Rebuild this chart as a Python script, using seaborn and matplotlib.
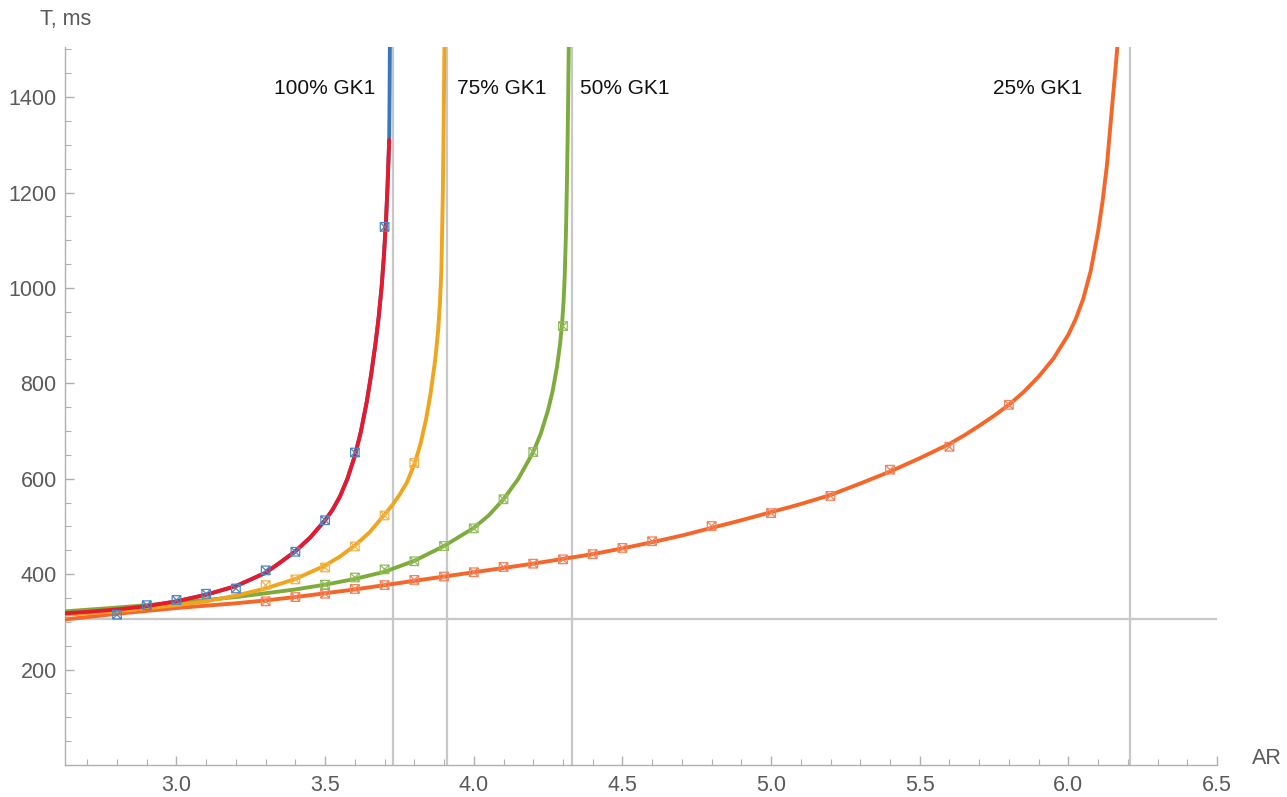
import numpy as np
import pandas as pd
import matplotlib
matplotlib.use("Agg")
import matplotlib.pyplot as plt
from matplotlib.path import Path
from matplotlib.ticker import MultipleLocator, FixedLocator
import seaborn as sns

# ---- fitted curves: T (ms) versus AR ----
fit100_x = [2.625, 2.7, 2.8, 2.9, 3.0, 3.1, 3.2, 3.3, 3.35, 3.4, 3.45, 3.5, 3.525,
            3.55, 3.575, 3.6, 3.62, 3.64, 3.655, 3.67, 3.68, 3.69, 3.698, 3.705,
            3.71, 3.7155]
fit100_y = [318, 321, 326, 333, 343, 357, 375, 403, 425, 448, 477, 513, 535,
            563, 600, 648, 698, 761, 819, 886, 938, 1002, 1069, 1144,
            1214, 1310]

model100_x = fit100_x + [3.717, 3.718]
model100_y = fit100_y + [1420, 1530]

fit75_x = [2.625, 2.8, 3.0, 3.1, 3.2, 3.3, 3.4, 3.5, 3.55, 3.6, 3.65, 3.7, 3.725,
           3.75, 3.775, 3.8, 3.82, 3.84, 3.855, 3.87, 3.88, 3.886, 3.891, 3.893,
           3.896, 3.898, 3.9, 3.902]
fit75_y = [315, 322, 335, 343, 355, 370, 390, 418, 437, 460, 488, 525, 544,
           566, 592, 630, 671, 726, 780, 848, 910, 966, 1036, 1100,
           1200, 1300, 1420, 1540]

fit50_x = [2.625, 2.8, 3.0, 3.2, 3.3, 3.4, 3.5, 3.6, 3.7, 3.8, 3.9, 4.0, 4.05, 4.1,
           4.15, 4.2, 4.225, 4.25, 4.265, 4.28, 4.29, 4.297, 4.302, 4.306, 4.31,
           4.313, 4.316, 4.319, 4.321]
fit50_y = [322, 330, 340, 352, 360, 368, 378, 390, 405, 428, 459, 497, 523, 557,
           600, 656, 694, 744, 783, 835, 881, 925, 971, 1027, 1113,
           1205, 1325, 1475, 1580]

fit25_x = [2.625, 2.8, 3.0, 3.2, 3.3, 3.4, 3.5, 3.6, 3.7, 3.8, 3.9, 4.0, 4.1, 4.2, 4.3,
           4.4, 4.5, 4.6, 4.7, 4.8, 4.9, 5.0, 5.1, 5.2, 5.3, 5.4, 5.5, 5.6, 5.65,
           5.7, 5.75, 5.8, 5.85, 5.9, 5.95, 6.0, 6.025, 6.05, 6.075, 6.1, 6.115,
           6.13, 6.14, 6.15, 6.16, 6.17]
fit25_y = [305, 317, 329, 339, 345, 352, 360, 368, 377, 386, 395, 404, 413, 422, 432,
           442, 454, 467, 481, 497, 513, 530, 547, 566, 590, 615, 643, 673, 691,
           711, 732, 755, 782, 814, 852, 902, 935, 977, 1035, 1118, 1181,
           1258, 1330, 1400, 1470, 1545]

# ---- simulated points ----
pts100_x = [2.8, 2.9, 3.0, 3.1, 3.2, 3.3, 3.4, 3.5, 3.6, 3.7]
pts100_y = [315, 335, 346, 359, 370, 408, 447, 513, 655, 1128]

pts75_x = [3.3, 3.4, 3.5, 3.6, 3.7, 3.8]
pts75_y = [377, 389, 414, 458, 523, 633]

pts50_x = [3.5, 3.6, 3.7, 3.8, 3.9, 4.0, 4.1, 4.2, 4.3]
pts50_y = [378, 393, 410, 427, 459, 496, 557, 656, 920]

pts25_x = [3.3, 3.4, 3.5, 3.6, 3.7, 3.8, 3.9, 4.0, 4.1, 4.2, 4.3, 4.4, 4.5, 4.6,
           4.8, 5.0, 5.2, 5.4, 5.6, 5.8]
pts25_y = [343, 352, 359, 369, 377, 388, 395, 404, 415, 422, 431, 442, 455, 469,
           501, 528, 564, 619, 667, 755]

# asymptotes and baseline
asymptotes = [3.727, 3.909, 4.329, 6.207]
baseline = 305

labels = ["100% GK1", "75% GK1", "50% GK1", "25% GK1"]
label_x = [3.668, 3.943, 4.357, 5.746]
label_y = 1419

C_BLUE = "#3479b9"
C_RED = "#e8192c"
C_ORANGE = "#f0a51e"
C_GREEN = "#7eac3c"
C_RORANGE = "#f4662a"

sns.set_theme(style="white")
plt.rcParams["font.family"] = ["Liberation Sans", "DejaVu Sans"]

fig = plt.figure(figsize=(12.87, 7.97), dpi=100)
ax = fig.add_axes([65 / 1287, 32 / 797, 1152 / 1287, 718 / 797])

# reference lines
for xv in asymptotes:
    ax.axvline(xv, color="#c8c8c8", lw=1.6, zorder=1)
ax.axhline(baseline, color="#c8c8c8", lw=1.6, zorder=1)

curves = [
    (model100_x, model100_y, C_BLUE, 2),
    (fit25_x, fit25_y, C_RORANGE, 3),
    (fit50_x, fit50_y, C_GREEN, 4),
    (fit75_x, fit75_y, C_ORANGE, 5),
    (fit100_x, fit100_y, C_RED, 6),
]
for cx, cy, col, z in curves:
    sns.lineplot(x=cx, y=cy, sort=False, estimator=None, color=col, lw=2.8,
                 ax=ax, zorder=z)

# boxed-cross marker
box_x = Path(
    [(-1, -1), (1, -1), (1, 1), (-1, 1), (-1, -1), (-1, -1), (1, 1), (-1, 1), (1, -1)],
    [Path.MOVETO, Path.LINETO, Path.LINETO, Path.LINETO, Path.CLOSEPOLY,
     Path.MOVETO, Path.LINETO, Path.MOVETO, Path.LINETO],
)
point_sets = [
    (pts25_x, pts25_y, "#f5825a"),
    (pts50_x, pts50_y, "#93bd5c"),
    (pts75_x, pts75_y, "#f2b34a"),
    (pts100_x, pts100_y, "#4a88c6"),
]
for px_, py_, col in point_sets:
    sns.scatterplot(x=px_, y=py_, marker=box_x, s=38, facecolors="none",
                    edgecolor=col, linewidth=0.9, ax=ax, zorder=8)

for txt, lx in zip(labels, label_x):
    ha = "right" if txt.startswith("100") else "left"
    ax.text(lx, label_y, txt, ha=ha, va="center", fontsize=15, color="#111111",
            zorder=9)

ax.set_xlim(2.625, 6.5)
ax.set_ylim(0, 1505)

ax.xaxis.set_major_locator(FixedLocator([3.0, 3.5, 4.0, 4.5, 5.0, 5.5, 6.0, 6.5]))
ax.xaxis.set_minor_locator(MultipleLocator(0.1))
ax.set_xticklabels(["3.0", "3.5", "4.0", "4.5", "5.0", "5.5", "6.0", "6.5"])
ax.yaxis.set_major_locator(FixedLocator([200, 400, 600, 800, 1000, 1200, 1400]))
ax.yaxis.set_minor_locator(MultipleLocator(50))

for side in ["top", "right"]:
    ax.spines[side].set_visible(False)
for side in ["left", "bottom"]:
    ax.spines[side].set_color("#b0b0b0")
    ax.spines[side].set_linewidth(1.0)

ax.tick_params(which="both", direction="in", color="#b0b0b0", labelcolor="#5a5a5a",
               labelsize=15.5, left=True, bottom=True)
ax.tick_params(which="major", length=6.5, width=1.0)
ax.tick_params(which="minor", length=4.3, width=0.8)
ax.tick_params(axis="x", which="major", pad=7)
ax.tick_params(axis="y", which="major", pad=6)
ax.set_xlabel("")
ax.set_ylabel("")

fig.text(66 / 1287, 1 - 19 / 797, "T, ms", ha="center", va="center", fontsize=15.5,
         color="#5a5a5a")
fig.text(1252 / 1287, 1 - 758 / 797, "AR", ha="left", va="center", fontsize=15.5,
         color="#5a5a5a")

fig.savefig("out.png", dpi=100)
